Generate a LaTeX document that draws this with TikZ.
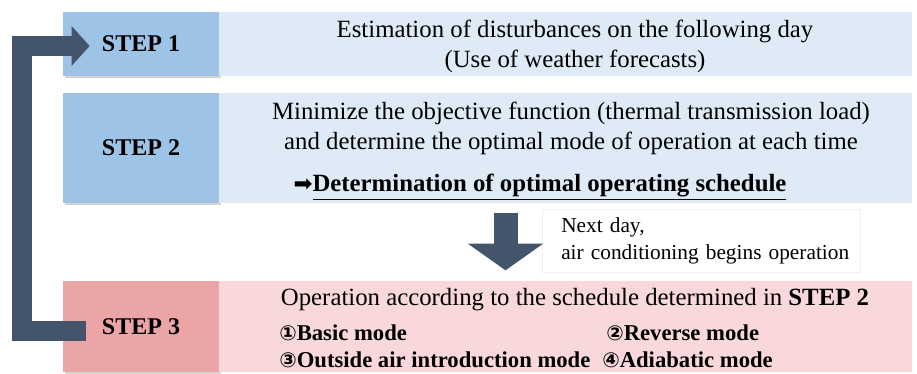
\documentclass[tikz,border=0pt]{standalone}
\usepackage{fontspec}
\setmainfont{Liberation Serif}
\newfontfamily\symfont{DejaVu Sans}
\usetikzlibrary{positioning,arrows.meta,shadows}

\definecolor{stepblue}{HTML}{9DC3E6}
\definecolor{boxblue}{HTML}{DEEBF7}
\definecolor{steppink}{HTML}{EBA5A7}
\definecolor{boxpink}{HTML}{F8D8DB}
\definecolor{arrowgray}{HTML}{44546A}

\tikzset{
  stepbox/.style={rectangle,inner sep=0pt,outer sep=0pt,minimum width=117pt,
    font=\fontsize{18}{20}\selectfont\bfseries,
    drop shadow={shadow xshift=1.2pt,shadow yshift=-1.2pt,opacity=0.35,fill=gray}},
  infobox/.style={rectangle,inner sep=0pt,outer sep=0pt,minimum width=519.75pt},
  maintext/.style={inner sep=0pt,font=\fontsize{18.6}{22.5}\selectfont,align=center},
  modetext/.style={inner sep=0pt,anchor=west,font=\fontsize{17}{18}\selectfont\bfseries},
}
\newcommand{\circnum}[1]{{\symfont\fontsize{15.5}{16}\selectfont #1}}

\begin{document}
\begin{tikzpicture}[x=0.75pt,y=-0.75pt]
  \useasboundingbox (0,0) rectangle (917,374);

  % step boxes
  \node[stepbox,fill=stepblue,minimum height=48pt] at (141,44) (s1) {STEP 1};
  \node[infobox,fill=boxblue,minimum height=48pt,right=0pt of s1] (c1) {};
  \node[stepbox,fill=stepblue,minimum height=82.5pt] at (141,148) (s2) {STEP 2};
  \node[infobox,fill=boxblue,minimum height=82.5pt,right=0pt of s2] (c2) {};
  \node[stepbox,fill=steppink,minimum height=68.25pt] at (141,326.5) (s3) {STEP 3};
  \node[infobox,fill=boxpink,minimum height=68.25pt,right=0pt of s3] (c3) {};

  % texts
  \node[maintext] at (575,46) (t1) {Estimation of disturbances on the following day\\(Use of weather forecasts)};
  \node[maintext] at (571,128) (t2) {Minimize the objective function (thermal transmission load)\\and determine the optimal mode of operation at each time};
  \node[maintext] at (540,187) (t3) {{\symfont\fontsize{17}{16}\selectfont ➡}\textbf{\underline{Determination of optimal operating schedule}}};
  \node[maintext] at (575,300) (t4) {Operation according to the schedule determined in \textbf{STEP 2}};
  \node[modetext] at (279,333) (m1) {\circnum{①}Basic mode};
  \node[modetext] at (606,333) (m2) {\circnum{②}Reverse mode};
  \node[modetext] at (279,360) (m3) {\circnum{③}Outside air introduction mode};
  \node[modetext] at (602,360) (m4) {\circnum{④}Adiabatic mode};

  \node[draw=gray!12,fill=white,inner sep=0pt,minimum width=238.5pt,minimum height=47pt,
        anchor=north west,align=left,text width=224pt,font=\fontsize{16}{20}\selectfont]
        at (542,209) (next) {\hspace*{7pt}Next day,\\\hspace*{7pt}air conditioning begins operation};

  % arrows
  \draw[arrowgray,line width=18pt,-{Triangle[width=55.5pt,length=20pt]}]
    ([xshift=-45pt,yshift=-7.5pt]c2.south) -- ([xshift=-45pt,yshift=8pt]c3.north);
  \coordinate (loopx) at (22,200);
  \draw[arrowgray,line width=15pt,line join=miter,-{Triangle[width=29pt,length=13.5pt]}]
    ([xshift=17pt,yshift=-3pt]s3.west) -| (loopx) |- ([xshift=20pt,yshift=-1.5pt]s1.west);
\end{tikzpicture}
\end{document}
